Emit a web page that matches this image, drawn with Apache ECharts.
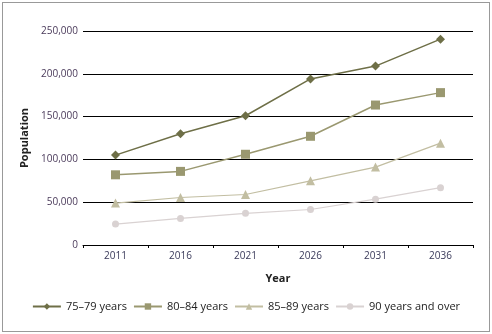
<!DOCTYPE html>
<html><head><meta charset="utf-8">
<script src="https://cdn.jsdelivr.net/npm/echarts@6/dist/echarts.min.js"></script>
<style>html,body{margin:0;padding:0;background:#fff}#c{width:492px;height:334px}</style>
</head><body><div id="c"></div>
<script>
const years = ['2011','2016','2021','2026','2031','2036'];
const s7579 = [105000, 130000, 151000, 194000, 209000, 240500];
const s8084 = [82000, 86000, 106000, 127000, 163500, 178000];
const s8589 = [49000, 55500, 59000, 75000, 91000, 119000];
const s90 = [24500, 31000, 37000, 41500, 53500, 67000];
const names = ['75–79 years','80–84 years','85–89 years','90 years and over'];
const yTicks = [0, 50000, 100000, 150000, 200000, 250000];

const chart = echarts.init(document.getElementById('c'));
const font = '"Open Sans", "Noto Sans", sans-serif';
const mk = (name, data, color, symbol, size, lw) => ({
  name, type: 'line', data, symbol, symbolSize: size,
  lineStyle: {color, width: lw}, itemStyle: {color},
  emphasis: {disabled: true}
});
chart.setOption({
  animation: false,
  textStyle: {fontFamily: font},
  graphic: [{type: 'rect', shape: {x: 2.5, y: 2.5, width: 487, height: 329},
    style: {fill: 'none', stroke: '#333', lineWidth: 1, lineDash: [1, 1]}}],
  grid: {left: 83, right: 19, top: 31, bottom: 89, containLabel: false},
  xAxis: {
    type: 'category', data: years, boundaryGap: true,
    name: 'Year', nameLocation: 'middle', nameGap: 28,
    nameTextStyle: {color: '#222', fontSize: 11, fontWeight: 'bold', fontFamily: font},
    axisLine: {lineStyle: {color: '#000', width: 1, type: [1, 1]}},
    axisTick: {show: true, length: 3, lineStyle: {color: '#000'}},
    axisLabel: {color: '#3a3a5a', fontSize: 10, margin: 6, fontFamily: font}
  },
  yAxis: {
    type: 'value', min: 0, max: 250000, interval: 50000,
    name: 'Population', nameLocation: 'middle', nameGap: 50,
    nameTextStyle: {color: '#222', fontSize: 11, fontWeight: 'bold', fontFamily: font},
    axisLine: {show: false}, axisTick: {show: false},
    axisLabel: {color: '#4a3a5a', fontSize: 10, margin: 5, fontFamily: font,
      formatter: v => yTicks.includes(v) ? v.toLocaleString('en-US') : ''},
    splitLine: {show: true, lineStyle: {color: '#000', width: 1}}
  },
  legend: {
    bottom: 17, left: 'center', itemGap: 6, itemWidth: 28, itemHeight: 8,
    textStyle: {color: '#222', fontSize: 11, fontFamily: font},
    data: names
  },
  series: [
    mk(names[0], s7579, '#6e6f47', 'diamond', 9, 1.5),
    mk(names[1], s8084, '#9a9870', 'rect', 9, 1.5),
    mk(names[2], s8589, '#c2bea2', 'triangle', 9, 1.2),
    mk(names[3], s90, '#d9d2d2', 'circle', 7, 1.2)
  ]
});
</script></body></html>
